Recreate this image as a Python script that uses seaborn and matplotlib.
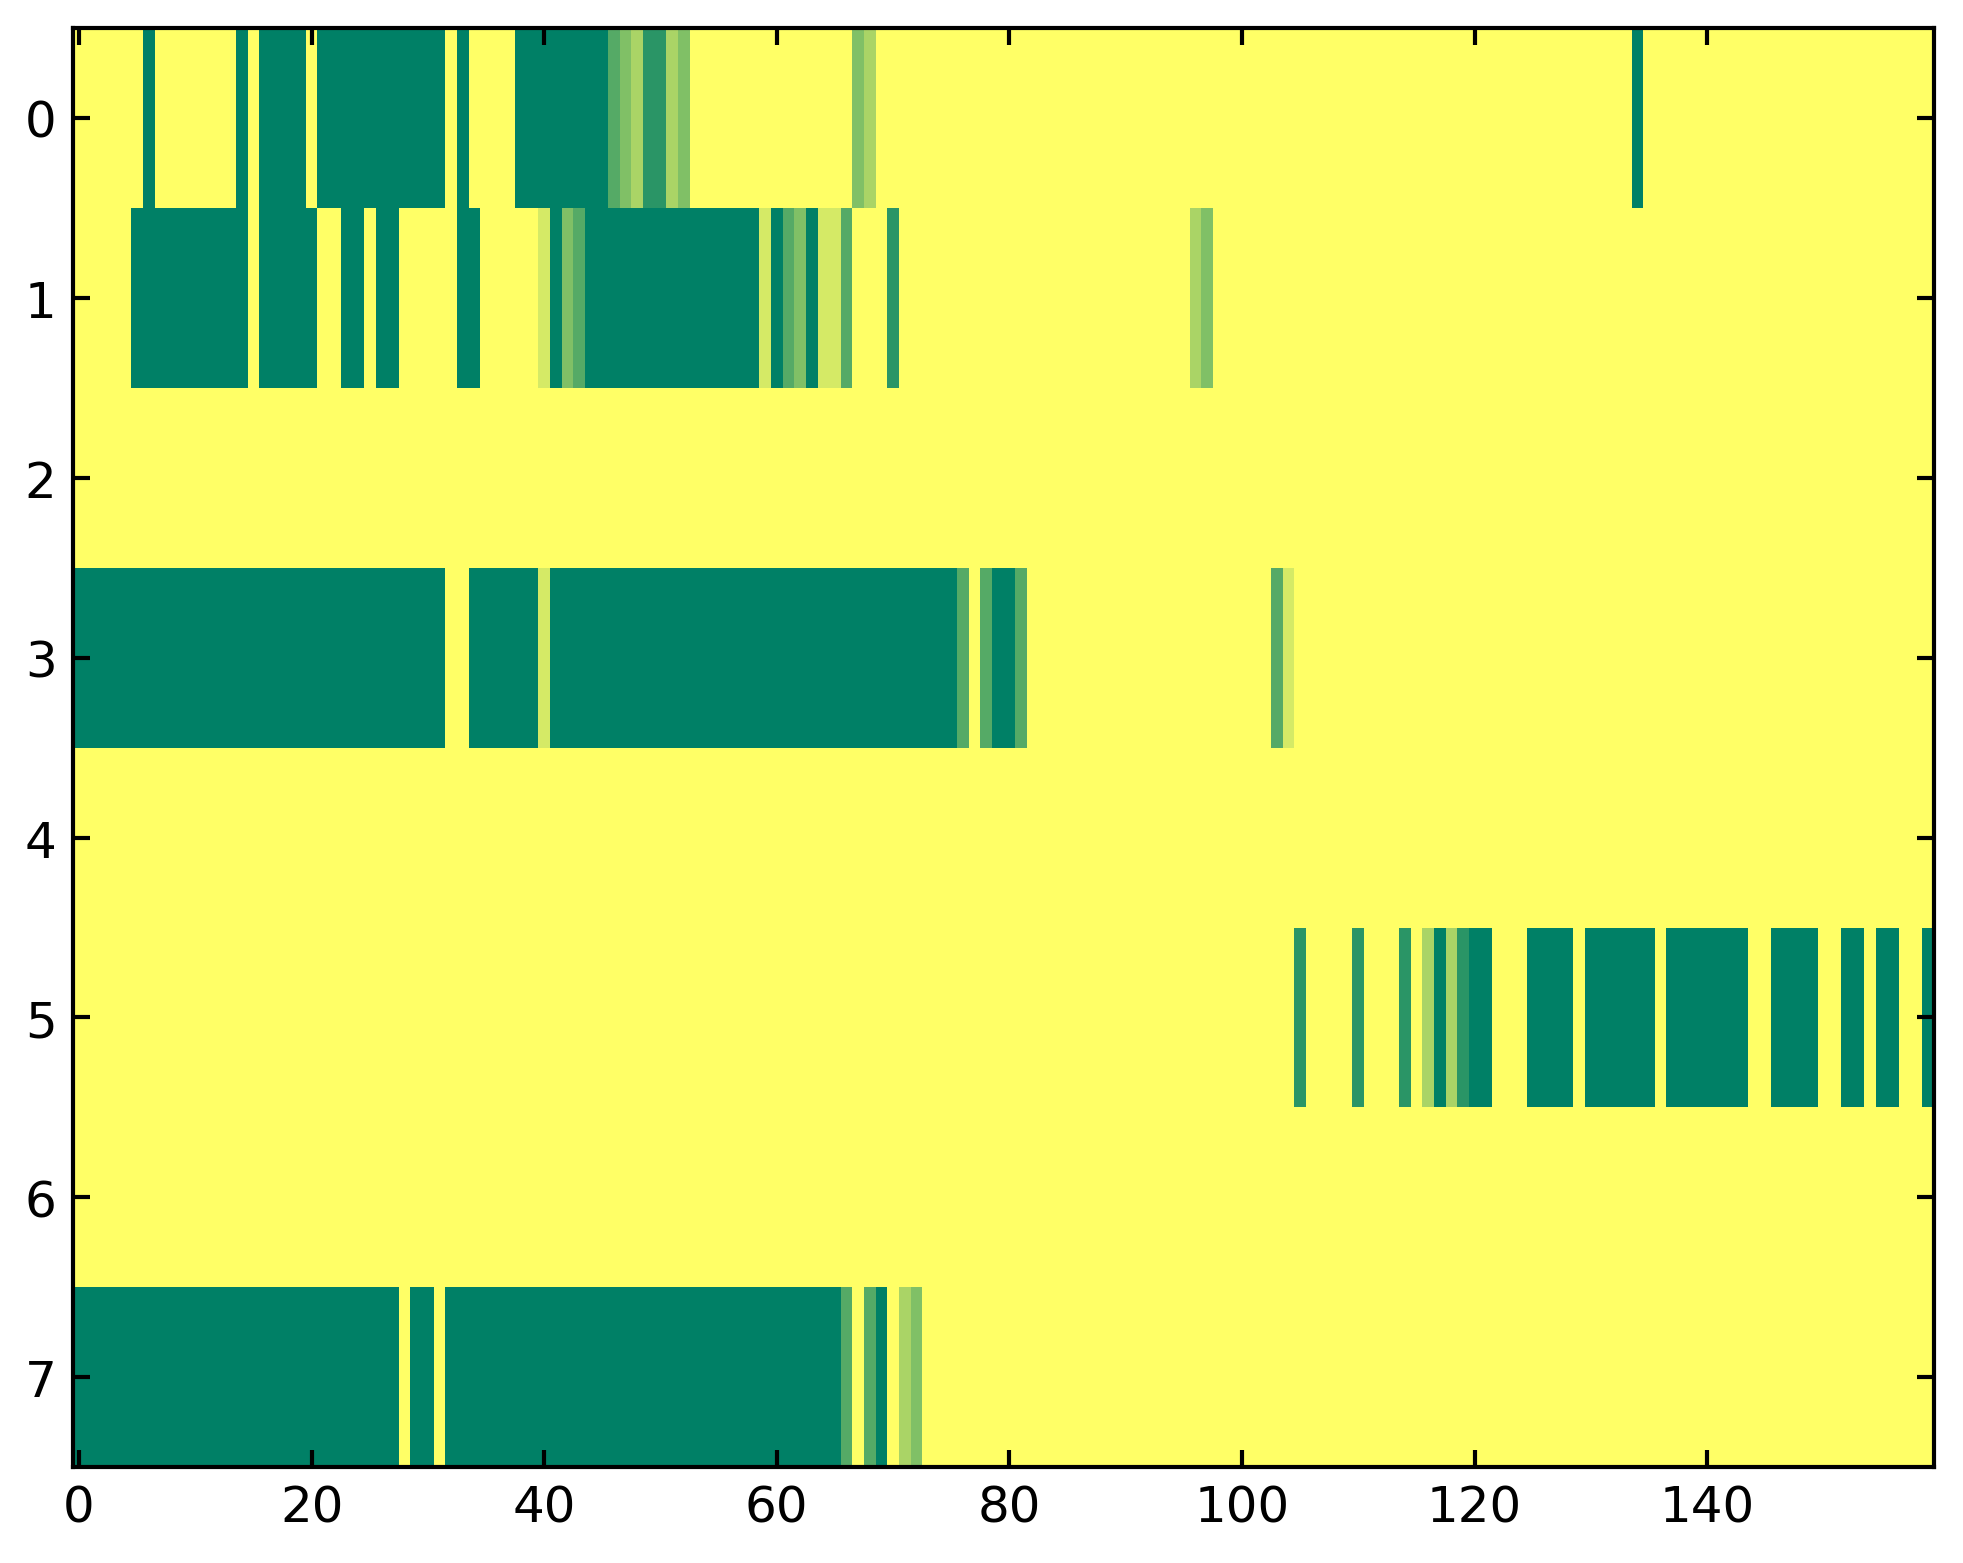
import numpy as np
import matplotlib
matplotlib.use("Agg")
import matplotlib.pyplot as plt
import seaborn as sns

# === DATA ===
# each row read off the picture as runs of (level, number of cells), value = level / 6
N_COLS = 160
ROW_0 = [(6, 6), (0, 1), (6, 7), (0, 1), (6, 1), (0, 4), (6, 1), (0, 11), (6, 1), (0, 1),
         (6, 4), (0, 8), (2, 1), (3, 1), (4, 1), (1, 2), (4, 1), (3, 1), (6, 14), (3, 1),
         (4, 1), (6, 65), (0, 1), (6, 25)]
ROW_1 = [(6, 5), (0, 10), (6, 1), (0, 5), (6, 2), (0, 2), (6, 1), (0, 2), (6, 5), (0, 2),
         (6, 5), (5, 1), (0, 1), (3, 1), (2, 1), (0, 15), (5, 1), (0, 1), (2, 1), (3, 1),
         (0, 1), (5, 2), (2, 1), (6, 3), (1, 1), (6, 25), (4, 1), (3, 1), (6, 62)]
ROW_2 = [(6, 160)]
ROW_3 = [(0, 32), (6, 2), (0, 6), (5, 1), (0, 35), (2, 1), (6, 1), (2, 1), (0, 2), (2, 1),
         (6, 21), (2, 1), (5, 1), (6, 55)]
ROW_4 = [(6, 160)]
ROW_5 = [(6, 105), (1, 1), (6, 4), (1, 1), (6, 3), (1, 1), (6, 1), (4, 1), (0, 1), (4, 1),
         (1, 1), (0, 2), (6, 3), (0, 4), (6, 1), (0, 6), (6, 1), (0, 7), (6, 2), (0, 4),
         (6, 2), (0, 2), (6, 1), (0, 2), (6, 2), (0, 1)]
ROW_6 = [(6, 160)]
ROW_7 = [(0, 28), (6, 1), (0, 2), (6, 1), (0, 34), (2, 1), (6, 1), (2, 1), (0, 1), (6, 1),
         (4, 1), (3, 1), (6, 87)]
ROWS = [ROW_0, ROW_1, ROW_2, ROW_3, ROW_4, ROW_5, ROW_6, ROW_7]

X_TICKS = [0, 20, 40, 60, 80, 100, 120, 140]
Y_TICKS = [0, 1, 2, 3, 4, 5, 6, 7]


def expand(runs):
    vals = np.repeat([lvl / 6 for lvl, _ in runs], [n for _, n in runs])
    assert len(vals) == N_COLS
    return vals


grid = np.vstack([expand(r) for r in ROWS])

fig = plt.figure(figsize=(1963 / 300, 1564 / 300), dpi=300)
ax = fig.add_axes([0.0373, 0.0612, 0.9479, 0.9203])
sns.heatmap(grid, cmap="summer", vmin=0, vmax=1, cbar=False, ax=ax,
            xticklabels=False, yticklabels=False)

ax.set_xticks(np.array(X_TICKS) + 0.5)
ax.set_xticklabels([str(t) for t in X_TICKS])
ax.set_yticks(np.array(Y_TICKS) + 0.5)
ax.set_yticklabels([str(t) for t in Y_TICKS], rotation=0)

for s in ax.spines.values():
    s.set_visible(True)
    s.set_linewidth(1.0)
    s.set_color("black")
ax.tick_params(direction="in", top=True, right=True, length=4, width=1,
               labelsize=12, pad=4, colors="black")

fig.savefig("out.png", dpi=300)
